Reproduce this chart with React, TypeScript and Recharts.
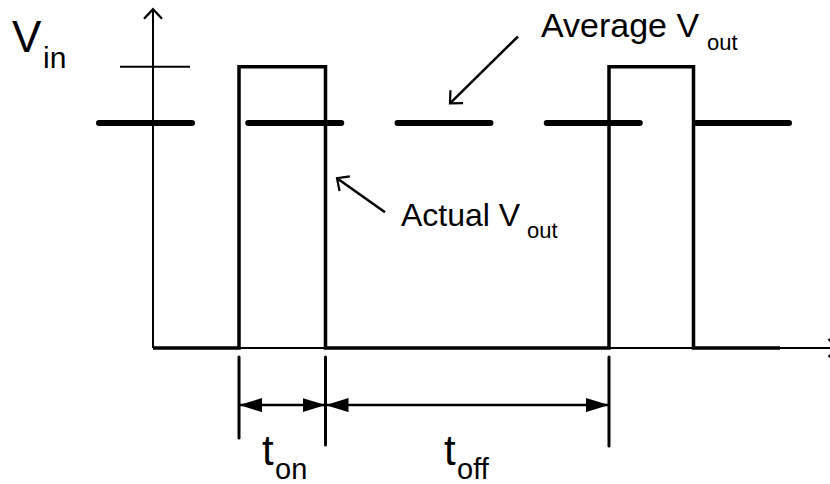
import React from 'react';
import { LineChart, Line, XAxis, YAxis } from 'recharts';

// PWM waveform: switching instants (time units) and level (fraction of Vin)
const switchTimes = [0, 8.6, 17.25, 45.6, 54.05, 62.7];
const switchLevels = [0, 1, 0, 1, 0, 0];

// average output level and the span it is drawn over
const averageLevel = 0.8;
const averageSpan = [-5.4, 63.7];

// Vin reference tick
const vinLevel = 1;
const vinTickSpan = [-3.3, 3.7];

// axes extents
const axisTimeEnd = 68.5;
const axisLevelTop = 1.205;

// dimension markers (t_on, t_off)
const dimTimes = [8.6, 17.25, 45.6];
const dimTickBottoms = [-0.32, -0.345, -0.348];
const dimTickTop = -0.032;
const dimArrowLevel = -0.203;

// annotation arrows: [from, to]
const averageArrowT = [36.5, 29.7];
const averageArrowV = [1.108, 0.87];
const actualArrowT = [23.2, 18.4];
const actualArrowV = [0.483, 0.604];

const waveData = switchTimes.map((t, i) => ({ t, v: switchLevels[i] }));
const averageData = averageSpan.map((t) => ({ t, v: averageLevel }));
const vinData = vinTickSpan.map((t) => ({ t, v: vinLevel }));
const xAxisData = [{ t: 0, v: 0 }, { t: axisTimeEnd, v: 0 }];
const yAxisData = [{ t: 0, v: 0 }, { t: 0, v: axisLevelTop }];
const tonData = [{ t: dimTimes[0], v: dimArrowLevel }, { t: dimTimes[1], v: dimArrowLevel }];
const toffData = [{ t: dimTimes[1], v: dimArrowLevel }, { t: dimTimes[2], v: dimArrowLevel }];
const dimTicks = dimTimes.map((t, i) => [
  { t, v: dimTickTop },
  { t, v: dimTickBottoms[i] },
]);
const averageArrow = averageArrowT.map((t, i) => ({ t, v: averageArrowV[i] }));
const actualArrow = actualArrowT.map((t, i) => ({ t, v: actualArrowV[i] }));

const font = '"Liberation Sans", Arial, sans-serif';

export default function App() {
  return (
    <div style={{ position: 'absolute', left: 0, top: 0, width: 830, height: 484, background: '#fff', overflow: 'hidden' }}>
      <LineChart width={830} height={484} margin={{ top: 5, right: 0, bottom: 1, left: 0 }}>
        <defs>
          <marker
            id="open"
            viewBox="0 0 11 18"
            refX={9.5}
            refY={9}
            markerWidth={11}
            markerHeight={18}
            markerUnits="userSpaceOnUse"
            orient="auto"
            overflow="visible"
          >
            <path d="M0,0 L9.5,9 L0,18" fill="none" stroke="#000" strokeWidth={2.2} />
          </marker>
          <marker
            id="filled"
            viewBox="0 0 23 14"
            refX={23}
            refY={7}
            markerWidth={23}
            markerHeight={14}
            markerUnits="userSpaceOnUse"
            orient="auto-start-reverse"
          >
            <path d="M0,0 L23,7 L0,14 z" fill="#000" />
          </marker>
        </defs>
        <XAxis type="number" dataKey="t" domain={[-15.3, 67.7]} hide allowDataOverflow />
        <YAxis type="number" dataKey="v" domain={[-0.48, 1.22]} hide allowDataOverflow />

        <Line data={xAxisData} dataKey="v" stroke="#000" strokeWidth={2} dot={false} activeDot={false}
          isAnimationActive={false} markerEnd="url(#open)" />
        <Line data={yAxisData} dataKey="v" stroke="#000" strokeWidth={2} dot={false} activeDot={false}
          isAnimationActive={false} markerEnd="url(#open)" />
        <Line data={vinData} dataKey="v" stroke="#000" strokeWidth={2} dot={false} activeDot={false}
          isAnimationActive={false} />

        <Line data={waveData} dataKey="v" type="stepAfter" stroke="#000" strokeWidth={3.5} dot={false}
          activeDot={false} isAnimationActive={false} strokeLinejoin="miter" />
        <Line data={averageData} dataKey="v" stroke="#000" strokeWidth={6} strokeDasharray="93 56.25"
          strokeLinecap="round" dot={false} activeDot={false} isAnimationActive={false} />

        {dimTicks.map((d, i) => (
          <Line key={`tick${i}`} data={d} dataKey="v" stroke="#000" strokeWidth={3} strokeLinecap="round"
            dot={false} activeDot={false} isAnimationActive={false} />
        ))}
        <Line data={tonData} dataKey="v" stroke="#000" strokeWidth={2.5} dot={false} activeDot={false}
          isAnimationActive={false} markerStart="url(#filled)" markerEnd="url(#filled)" />
        <Line data={toffData} dataKey="v" stroke="#000" strokeWidth={2.5} dot={false} activeDot={false}
          isAnimationActive={false} markerStart="url(#filled)" markerEnd="url(#filled)" />

        <Line data={averageArrow} dataKey="v" stroke="#000" strokeWidth={2.5} dot={false} activeDot={false}
          isAnimationActive={false} markerEnd="url(#open)" />
        <Line data={actualArrow} dataKey="v" stroke="#000" strokeWidth={2.5} dot={false} activeDot={false}
          isAnimationActive={false} markerEnd="url(#open)" />

        <text x={12} y={52} fontFamily={font} fontSize={44} fill="#000">V</text>
        <text x={43} y={68} fontFamily={font} fontSize={30} fill="#000">in</text>

        <text x={541} y={37} fontFamily={font} fontSize={34} fill="#000">Average V</text>
        <text x={707} y={50} fontFamily={font} fontSize={22} fill="#000">out</text>

        <text x={401} y={226} fontFamily={font} fontSize={32} fill="#000">Actual V</text>
        <text x={527} y={238} fontFamily={font} fontSize={22} fill="#000">out</text>

        <text x={262} y={465} fontFamily={font} fontSize={42} fill="#000">t</text>
        <text x={275} y={479} fontFamily={font} fontSize={29} fill="#000">on</text>

        <text x={444} y={465} fontFamily={font} fontSize={42} fill="#000">t</text>
        <text x={457} y={479} fontFamily={font} fontSize={29} fill="#000">off</text>
      </LineChart>
    </div>
  );
}
